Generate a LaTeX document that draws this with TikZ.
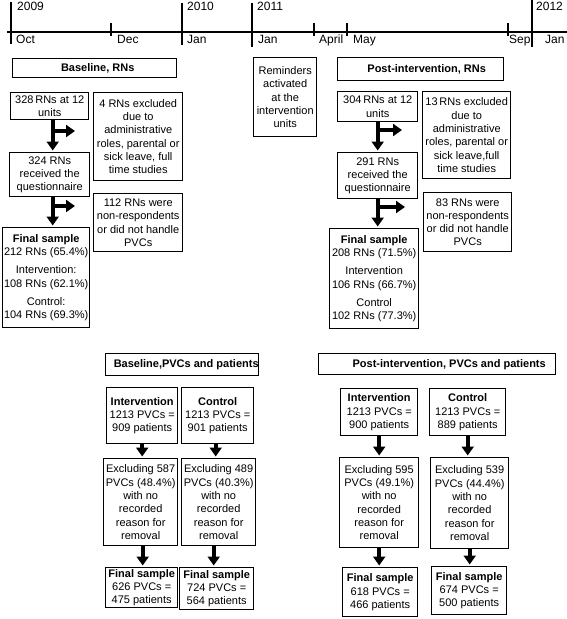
\documentclass[tikz,border=0pt]{standalone}
\usepackage{fontspec}
\setmainfont{Liberation Sans}
\usetikzlibrary{arrows.meta}
\begin{document}
\begin{tikzpicture}[x=1pt,y=-1pt,
 box/.style={draw, line width=1.4pt, align=center, inner sep=0pt, anchor=north west,
   font=\fontsize{11}{13.3}\selectfont},
 arr/.style={line width=3.6pt, -{Triangle[width=12pt,length=9pt]}, shorten >=1.5pt},
 yeartick/.style={line width=2.4pt},
 montick/.style={line width=1.3pt},
 tline/.style={line width=1.7pt},
 tl/.style={anchor=base west, inner sep=0pt, font=\fontsize{12}{14}\selectfont}]
\useasboundingbox (0,0) rectangle (567,619);

% ---------- timeline ----------
\coordinate (tlL) at (7,32);
\coordinate (tlR) at (567,32);
\draw[tline] (tlL) -- (tlR);
\coordinate (y9a) at (11,2);   \coordinate (y9b) at (11,44);
\coordinate (y10a) at (182,3); \coordinate (y10b) at (182,45);
\coordinate (y11a) at (252,3); \coordinate (y11b) at (252,47);
\coordinate (y12a) at (532,0); \coordinate (y12b) at (532,47);
\draw[yeartick] (y9a) -- (y9b);
\draw[yeartick] (y10a) -- (y10b);
\draw[yeartick] (y11a) -- (y11b);
\draw[yeartick] (y12a) -- (y12b);
\coordinate (mDa) at (111,23); \coordinate (mDb) at (111,36);
\coordinate (mAa) at (314,23); \coordinate (mAb) at (314,36);
\coordinate (mMa) at (347,23); \coordinate (mMb) at (347,36);
\coordinate (mSa) at (508,23); \coordinate (mSb) at (508,36);
\draw[montick] (mDa) -- (mDb);
\draw[montick] (mAa) -- (mAb);
\draw[montick] (mMa) -- (mMb);
\draw[montick] (mSa) -- (mSb);
\node[tl] (t2009) at (17,10) {2009};
\node[tl] (t2010) at (187,10) {2010};
\node[tl] (t2011) at (257,10) {2011};
\node[tl] (t2012) at (536,10) {2012};
\node[tl] (tOct) at (16,43) {Oct};
\node[tl] (tDec) at (117,43) {Dec};
\node[tl] (tJan1) at (187,43) {Jan};
\node[tl] (tJan2) at (258,43) {Jan};
\node[tl] (tApr) at (319,43) {April};
\node[tl] (tMay) at (353,43) {May};
\node[tl] (tSep) at (509,43) {Sep};
\node[tl] (tJan3) at (545,43) {Jan};

% ---------- baseline RNs ----------
\node[box, minimum width=164pt, minimum height=19pt] (bRN) at (12,58) {\hspace*{6pt}\textbf{Baseline, RNs}};
\node[box, minimum width=78pt, minimum height=27pt] (r328) at (10,92) {328\,RNs at 12\\units};
\node[box, minimum width=89pt, minimum height=88pt] (ex4) at (93,92) {4 RNs excluded\\due to\\administrative\\roles, parental or\\sick leave, full\\time studies};
\node[box, minimum width=80pt, minimum height=44pt] (r324) at (9,152) {324 RNs\\received the\\questionnaire};
\node[box, minimum width=89pt, minimum height=58pt] (nr112) at (93,193) {112 RNs were\\non-respondents\\or did not handle\\PVCs};
\node[box, minimum width=87pt, minimum height=100pt] (fsL) at (2,227) {\textbf{Final sample}\\212 RNs (65.4\%)\\[5pt]Intervention:\\108 RNs (62.1\%)\\[5pt]Control:\\104 RNs (69.3\%)};

% ---------- reminders ----------
\node[box, minimum width=63pt, minimum height=79pt] (rem) at (253,57) {Reminders\\activated\\at the\\intervention\\units};

% ---------- post-intervention RNs ----------
\node[box, minimum width=166pt, minimum height=23pt] (pRN) at (337,57) {\hspace*{12pt}\textbf{Post-intervention, RNs}};
\node[box, minimum width=80pt, minimum height=30pt] (r304) at (337,91) {304\,RNs at 12\\units};
\node[box, minimum width=88pt, minimum height=87pt] (ex13) at (422,91) {13\,RNs excluded\\due to\\administrative\\roles, parental or\\sick leave,full\\time studies};
\node[box, minimum width=80pt, minimum height=46pt] (r291) at (337,152) {291 RNs\\received the\\questionnaire};
\node[box, minimum width=88pt, minimum height=59pt] (nr83) at (423,192) {83 RNs were\\non-respondents\\or did not handle\\PVCs};
\node[box, minimum width=89pt, minimum height=100pt] (fsR) at (329,228) {\textbf{Final sample}\\208 RNs (71.5\%)\\[5pt]Intervention\\106 RNs (66.7\%)\\[5pt]Control\\102 RNs (77.3\%)};

% ---------- T arrows ----------
\coordinate (st1) at ([xshift=3pt]r328.south);
\coordinate (b1) at (75,131);
\draw[arr] (st1) -- (st1 |- r324.north);
\draw[arr, shorten >=0pt] (st1 |- b1) -- (b1);
\coordinate (st2) at ([xshift=3pt]r324.south);
\coordinate (b2) at (75,206);
\draw[arr] (st2) -- (st2 |- fsL.north);
\draw[arr, shorten >=0pt] (st2 |- b2) -- (b2);
\coordinate (st3) at (r304.south);
\coordinate (b3) at (402,130);
\draw[arr] (st3) -- (st3 |- r291.north);
\draw[arr, shorten >=0pt] (st3 |- b3) -- (b3);
\coordinate (st4) at (r291.south);
\coordinate (b4) at (405,207);
\draw[arr] (st4) -- (st4 |- fsR.north);
\draw[arr, shorten >=0pt] (st4 |- b4) -- (b4);

% ---------- baseline PVCs ----------
\node[box, minimum width=153pt, minimum height=22pt] (bPVC) at (105,353) {\hspace*{8pt}\textbf{Baseline,PVCs and patients}};
\node[box, minimum width=71pt, minimum height=56pt] (iL) at (106,387) {\textbf{Intervention}\\1213 PVCs =\\909 patients};
\node[box, minimum width=72pt, minimum height=56pt] (cL) at (181,387) {\textbf{Control}\\1213 PVCs =\\901 patients};
\node[box, minimum width=74pt, minimum height=87pt] (xL) at (103,458) {Excluding 587\\PVCs (48.4\%)\\with no\\recorded\\reason for\\removal};
\node[box, minimum width=74pt, minimum height=87pt] (xcL) at (181,458) {Excluding 489\\PVCs (40.3\%)\\with no\\recorded\\reason for\\removal};
\node[box, minimum width=72pt, minimum height=40pt] (fL) at (105,567) {\textbf{Final sample}\\626 PVCs =\\475 patients};
\node[box, minimum width=74pt, minimum height=42pt] (fcL) at (179,567) {\textbf{Final sample}\\724 PVCs =\\564 patients};

% ---------- post PVCs ----------
\node[box, minimum width=237pt, minimum height=21pt] (pPVC) at (318,353) {\hspace*{24pt}\textbf{Post-intervention, PVCs and patients}};
\node[box, minimum width=77pt, minimum height=47pt] (iR) at (340,388) {\textbf{Intervention}\\1213 PVCs =\\900 patients};
\node[box, minimum width=76pt, minimum height=47pt] (cR) at (429,388) {\textbf{Control}\\1213 PVCs =\\889 patients};
\node[box, minimum width=79pt, minimum height=90pt] (xR) at (339,457) {Excluding 595\\PVCs (49.1\%)\\with no\\recorded\\reason for\\removal};
\node[box, minimum width=78pt, minimum height=91pt] (xcR) at (430,457) {Excluding 539\\PVCs (44.4\%)\\with no\\recorded\\reason for\\removal};
\node[box, minimum width=75pt, minimum height=49pt] (fR) at (342,567) {\textbf{Final sample}\\618 PVCs =\\466 patients};
\node[box, minimum width=75pt, minimum height=48pt] (fcR) at (431,566) {\textbf{Final sample}\\674 PVCs =\\500 patients};

% ---------- simple arrows ----------
\draw[arr] (iL.south) -- (iL.south |- xL.north);
\draw[arr] ([xshift=-2pt]cL.south) -- ([xshift=-2pt]cL.south |- xcL.north);
\draw[arr] ([xshift=2pt]xL.south) -- ([xshift=2pt]xL.south |- fL.north);
\draw[arr] ([xshift=-5pt]xcL.south) -- ([xshift=-5pt]xcL.south |- fcL.north);
\draw[arr] (iR.south) -- (iR.south |- xR.north);
\draw[arr] (cR.south) -- (cR.south |- xcR.north);
\draw[arr] (xR.south) -- (xR.south |- fR.north);
\draw[arr] (xcR.south) -- (xcR.south |- fcR.north);
\end{tikzpicture}
\end{document}
